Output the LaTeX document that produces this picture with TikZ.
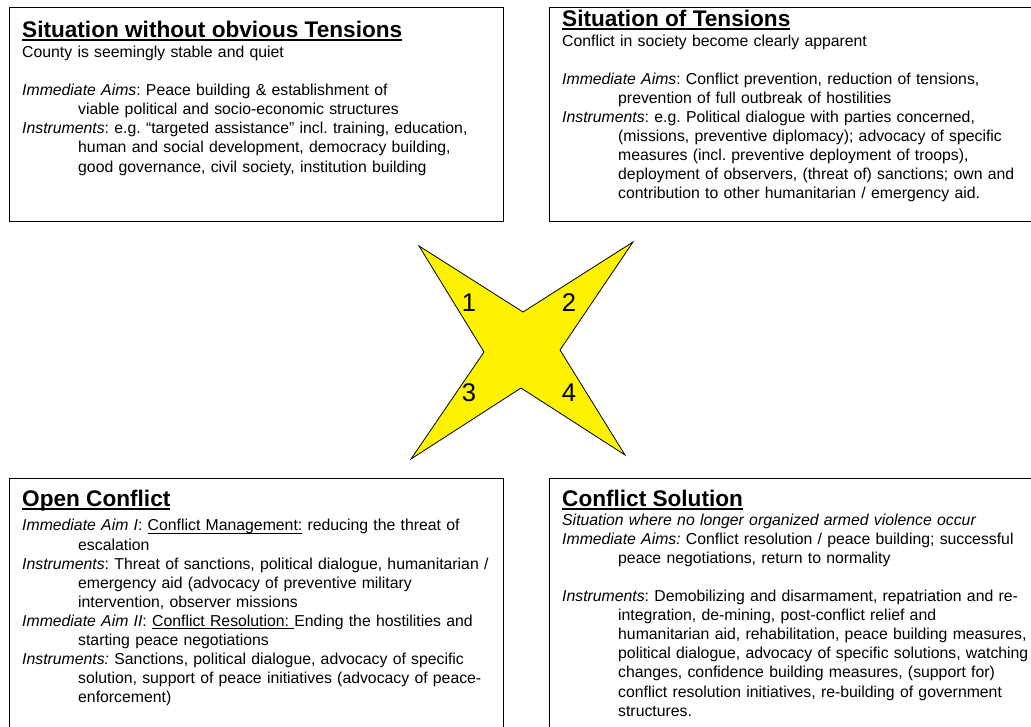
\documentclass[tikz,border=0pt]{standalone}
\usepackage{fontspec}
\setmainfont{Liberation Sans}
\newsavebox\undlbox
\newcommand\undl[2][2.8pt]{\sbox\undlbox{#2}\rlap{\vrule height -1.6pt depth #1 width \wd\undlbox}\usebox\undlbox}
\newcommand\hangpar{\par\hangindent=56pt\hangafter=1\noindent\strut}
\frenchspacing
\begin{document}
\begin{tikzpicture}
[x=1pt,y=-1pt,
 boxline/.style={line width=1pt},
 boxtitle/.style={anchor=base west,inner sep=0pt,font=\fontsize{22.6}{26}\selectfont\bfseries},
 boxtext/.style={anchor=north west,inner sep=0pt,text width=500pt,align=left,
   font=\fontsize{15.8}{19.1}\selectfont\frenchspacing},
 starnum/.style={inner sep=0pt,font=\fontsize{25.6}{30}\selectfont}]
\useasboundingbox (0,0) rectangle (1031,727);
\clip (0,0) rectangle (1031,727);
%% the four boxes
\foreach \xa/\ya/\xb/\yb in {9/8/503/222, 549/8/1040/222, 9/478/503/740, 549/478/1040/740} {
  \draw[boxline] (\xa,\ya) rectangle (\xb,\yb);
}
%% box 1
\node[boxtitle] (quietTitle) at (22,37.7) {\undl[3.4pt]{Situation without obvious Tensions}};
\node[boxtext] (quietText) at (22,43.9) {\strut County is seemingly stable and quiet\par\strut
  \hangpar\textit{Immediate Aims}: Peace building \& establishment of\newline
  viable political and socio-economic structures
  \hangpar\textit{Instruments}: e.g. “targeted assistance” incl. training, education,\newline
  human and social development, democracy building,\newline
  good governance, civil society, institution building\par};
%% box 2
\node[boxtitle] (tensionTitle) at (562,26.7) {\undl[3.4pt]{Situation of Tensions}};
\node[boxtext] (tensionText) at (562,32.6) {\strut Conflict in society become clearly apparent\par\strut
  \hangpar\textit{Immediate Aims}: Conflict prevention, reduction of tensions,\newline
  prevention of full outbreak of hostilities
  \hangpar\textit{Instruments}: e.g. Political dialogue with parties concerned,\newline
  (missions, preventive diplomacy); advocacy of specific\newline
  measures (incl. preventive deployment of troops),\newline
  deployment of observers, (threat of) sanctions; own and\newline
  contribution to other humanitarian / emergency aid.\par};
%% box 3
\node[boxtitle] (openTitle) at (22,506.7) {\undl[3.4pt]{Open Conflict}};
\node[boxtext] (openText) at (22,511.6) {%
  \hangpar\textit{Immediate Aim I}: \undl{Conflict Management:} reducing the threat of\newline
  escalation
  \hangpar\textit{Instruments}: Threat of sanctions, political dialogue, humanitarian /\newline
  emergency aid (advocacy of preventive military\newline
  intervention, observer missions
  \hangpar\textit{Immediate Aim II}: \undl{Conflict Resolution:\ }Ending the hostilities and\newline
  starting peace negotiations
  \hangpar\textit{Instruments:} Sanctions, political dialogue, advocacy of specific\newline
  solution, support of peace initiatives (advocacy of peace-\newline
  enforcement)\par};
%% box 4
\node[boxtitle] (solutionTitle) at (562,506.7) {\undl[3.4pt]{Conflict Solution}};
\node[boxtext] (solutionText) at (562,511.6) {%
  \strut\textit{Situation where no longer organized armed violence occur}
  \hangpar\textit{Immediate Aims:} Conflict resolution / peace building; successful\newline
  peace negotiations, return to normality\par\strut
  \hangpar\textit{Instruments}: Demobilizing and disarmament, repatriation and re-\newline
  integration, de-mining, post-conflict relief and\newline
  humanitarian aid, rehabilitation, peace building measures,\newline
  political dialogue, advocacy of specific solutions, watching\newline
  changes, confidence building measures, (support for)\newline
  conflict resolution initiatives, re-building of government\newline
  structures.\par};
%% the star
\draw[fill=yellow,line width=0.8pt,line join=miter]
  (419,246) -- (523,312) -- (633,242) -- (560,350) -- (625,455)
  -- (521,388) -- (411,459) -- (484,352) -- cycle;
\foreach \n/\x/\y in {1/469/302.5, 2/569/302.5, 3/469/393, 4/569/393} {
  \node[starnum] (num\n) at (\x,\y) {\n};
}
\end{tikzpicture}
\end{document}
